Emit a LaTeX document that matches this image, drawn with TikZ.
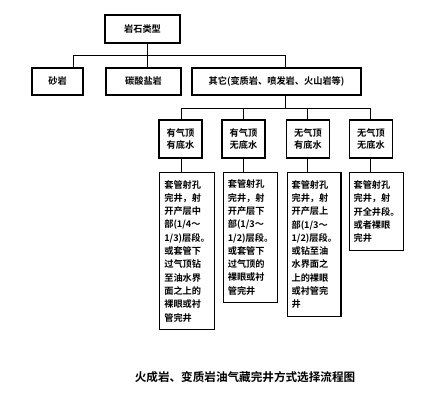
\documentclass[tikz,border=0pt]{standalone}
\usepackage{fontspec}
\newfontfamily\cjk{Noto Sans CJK SC}[BoldFont={Noto Sans CJK SC Bold}]
\begin{document}
\begin{tikzpicture}[x=1pt,y=-1pt,
  box/.style={draw, line width=1.1pt, inner sep=0pt, font=\cjk\bfseries\fontsize{9.2}{12.5}\selectfont},
  tall/.style={draw, line width=1.1pt, anchor=north west, inner xsep=4pt, inner ysep=3.5pt, align=left,
     font=\cjk\bfseries\fontsize{9.2}{13.3}\selectfont},
  conn/.style={line width=0.7pt}]
\useasboundingbox (0,0) rectangle (439,401);
% level 0
\node[box, minimum width=75pt, minimum height=28pt] (top) at (142.5,29) {岩石类型};
% level 1
\node[box, minimum width=51pt, minimum height=27pt] (sand) at (57.5,81.5) {砂岩};
\node[box, minimum width=75pt, minimum height=27pt] (carb) at (143.5,81.5) {碳酸盐岩};
\node[box, minimum width=169pt, minimum height=27pt] (other) at (276.5,81.5) {其它(变质岩、喷发岩、火山岩等)};
% level 2
\node[box, align=center, minimum width=43pt, minimum height=38pt] (a) at (180.5,139) {有气顶\\有底水};
\node[box, align=center, minimum width=43pt, minimum height=38pt] (b) at (243.5,139) {有气顶\\无底水};
\node[box, align=center, minimum width=43pt, minimum height=38pt] (c) at (308,139) {无气顶\\有底水};
\node[box, align=center, minimum width=43pt, minimum height=38pt] (d) at (371,139) {无气顶\\无底水};
% level 3
\node[tall, minimum width=55pt, minimum height=157pt] (a2) at (159,172)
  {套管射孔\\完井，射\\开产层中\\部(1/4～\\1/3)层段。\\或套管下\\过气顶钻\\至油水界\\面之上的\\裸眼或衬\\管完井};
\node[tall, minimum width=54pt, minimum height=130pt] (b2) at (223,172)
  {套管射孔\\完井，射\\开产层下\\部(1/3～\\1/2)层段。\\或套管下\\过气顶的\\裸眼或衬\\管完井};
\node[tall, minimum width=53pt, minimum height=144pt] (c2) at (287,172)
  {套管射孔\\完井，射\\开产层上\\部(1/3～\\1/2)层段。\\或钻至油\\水界面之\\上的裸眼\\或衬管完\\井};
\node[tall, minimum width=53pt, minimum height=78pt] (d2) at (349,172)
  {套管射孔\\完井，射\\开全井段。\\或者裸眼\\完井};
% junctions
\coordinate (j0) at (147.5,55.5);
\coordinate (s1) at (73,55.5);
\coordinate (s3) at (285,55.5);
\coordinate (j1) at (285,108);
\coordinate (t1) at (181,108);
\coordinate (t2) at (243,108);
\coordinate (t3) at (307,108);
\coordinate (t4) at (370,108);
% connectors
\draw[conn] (top.south -| j0) -- (j0);
\draw[conn] (s1) -- (s3);
\draw[conn] (s1) -- (s1 |- sand.north);
\draw[conn] (j0) -- (j0 |- carb.north);
\draw[conn] (s3) -- (s3 |- other.north);
\draw[conn] (other.south -| j1) -- (j1);
\draw[conn] (t1) -- (t4);
\draw[conn] (t1) -- (t1 |- a.north);
\draw[conn] (t2) -- (t2 |- b.north);
\draw[conn] (t3) -- (t3 |- c.north);
\draw[conn] (t4) -- (t4 |- d.north);
\draw[conn] (a.south -| t1) -- (t1 |- a2.north);
\draw[conn] (b.south -| t2) -- (t2 |- b2.north);
\draw[conn] (c.south -| t3) -- (t3 |- c2.north);
\draw[conn] (d.south -| t4) -- (t4 |- d2.north);
% caption
\node[font=\cjk\bfseries\fontsize{11.6}{14}\selectfont] (cap) at (245,377) {火成岩、变质岩油气藏完井方式选择流程图};
\end{tikzpicture}
\end{document}
